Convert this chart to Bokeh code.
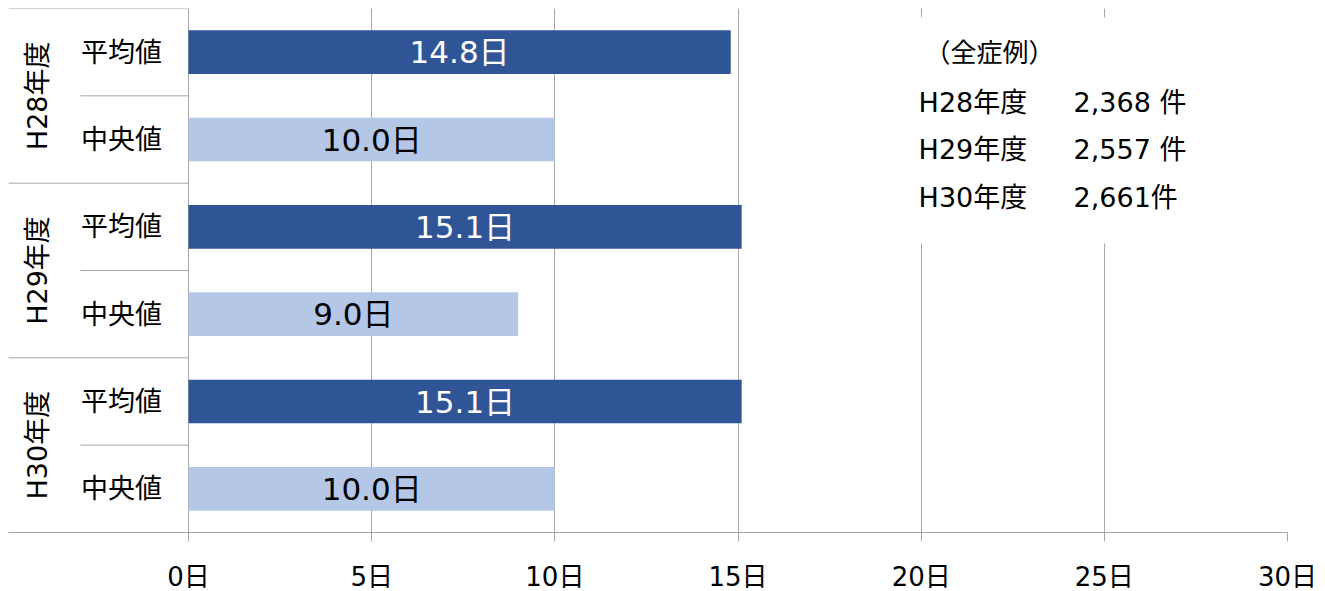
from bokeh.plotting import figure
from bokeh.models import FactorRange, Range1d, FixedTicker, ColumnDataSource, BoxAnnotation
from bokeh.core.properties import value
from bokeh.embed import file_html
from bokeh.resources import INLINE
import math

# ---- data ----
years = ["H28年度", "H29年度", "H30年度"]
stats = ["平均値", "中央値"]
mean_days = [14.8, 15.1, 15.1]
median_days = [10.0, 9.0, 10.0]
x_ticks = [0, 5, 10, 15, 20, 25, 30]
x_tick_labels = ["0日", "5日", "10日", "15日", "20日", "25日", "30日"]
case_title = "（全症例）"
case_years = ["H28年度", "H29年度", "H30年度"]
case_counts = ["2,368 件", "2,557 件", "2,661件"]

FONT = "DejaVu Sans, Noto Sans CJK JP"
DARK = "#2F5597"
LIGHT = "#B4C7E7"
GRID = "#A6A6A6"

# factors bottom -> top (H28 at top)
factors = [(y, s) for y in reversed(years) for s in reversed(stats)]
y_range = FactorRange(factors=factors, factor_padding=0, group_padding=0,
                      subgroup_padding=0, range_padding=0)

p = figure(frame_width=1279, frame_height=524, y_range=y_range,
           x_range=Range1d(-4.914, 30), y_axis_location=None,
           output_backend="svg", toolbar_location=None,
           min_border_left=8, min_border_top=8, min_border_bottom=0,
           min_border_right=36)
p.outline_line_color = None
p.background_fill_color = "white"
p.border_fill_color = "white"

# grid
p.ygrid.grid_line_color = None
p.xgrid.ticker = FixedTicker(ticks=x_ticks)
p.xgrid.grid_line_color = GRID
p.xgrid.grid_line_width = 1

# x axis
ax = p.xaxis[0]
ax.ticker = FixedTicker(ticks=x_ticks)
ax.major_label_overrides = {t: lab for t, lab in zip(x_ticks, x_tick_labels)}
ax.axis_line_color = GRID
ax.major_tick_line_color = GRID
ax.minor_tick_line_color = None
ax.major_tick_out = 9
ax.major_tick_in = 0
ax.major_label_standoff = 20
ax.major_label_text_font = FONT
ax.major_label_text_font_size = "26px"
ax.major_label_text_color = "#000000"

# bars
rows = []
for i, yv in enumerate(years):
    rows.append(((yv, "平均値"), mean_days[i], DARK, "white"))
    rows.append(((yv, "中央値"), median_days[i], LIGHT, "black"))
src = ColumnDataSource(dict(
    y=[r[0] for r in rows],
    v=[r[1] for r in rows],
    mid=[r[1] / 2 for r in rows],
    color=[r[2] for r in rows],
    tcolor=[r[3] for r in rows],
    label=[f"{r[1]:.1f}日" for r in rows],
))
p.hbar(y="y", left=0, right="v", height=0.5, fill_color="color",
       line_color=None, source=src)
p.text(x="mid", y="y", text="label", text_color="tcolor",
       text_align="center", text_baseline="middle",
       text_font=value(FONT), text_font_size="31px", source=src)

# category labels (left area)
p.text(x=[-1.83] * len(factors), y=factors, text=[f[1] for f in factors],
       text_align="center", text_baseline="middle", text_color="black",
       text_font=value(FONT), text_font_size="27px")
p.text(x=[-4.12] * len(years), y=[(yv, stats[0], -0.5) for yv in years],
       text=years, angle=math.pi / 2, text_align="center",
       text_baseline="middle", text_color="black",
       text_font=value(FONT), text_font_size="27px")

# separator lines
p.segment(x0=[-4.914] * len(years), x1=[0] * len(years),
          y0=[(yv, stats[0], 0.5) for yv in years],
          y1=[(yv, stats[0], 0.5) for yv in years],
          line_color=GRID, line_width=1)
p.segment(x0=[-2.95] * len(years), x1=[0] * len(years),
          y0=[(yv, stats[0], -0.5) for yv in years],
          y1=[(yv, stats[0], -0.5) for yv in years],
          line_color=GRID, line_width=1)

# case-count text box
p.add_layout(BoxAnnotation(left=19.55, right=25.3, bottom=3.31, top=5.90,
                           fill_color="white", fill_alpha=1.0,
                           line_color=None, level="underlay"))
p.text(x=[19.93], y=[5.496], text=[case_title], text_baseline="middle",
       text_color="black", text_font=value(FONT), text_font_size="26px",
       x_offset=6)
ys = [4.924, 4.385, 3.836]
p.text(x=[19.93] * 3, y=ys, text=case_years, text_baseline="middle",
       text_color="black", text_font=value(FONT), text_font_size="27px")
p.text(x=[24.16] * 3, y=ys, text=case_counts, text_baseline="middle",
       text_color="black", text_font=value(FONT), text_font_size="27px")

open("out.html", "w").write(file_html(p, INLINE))
